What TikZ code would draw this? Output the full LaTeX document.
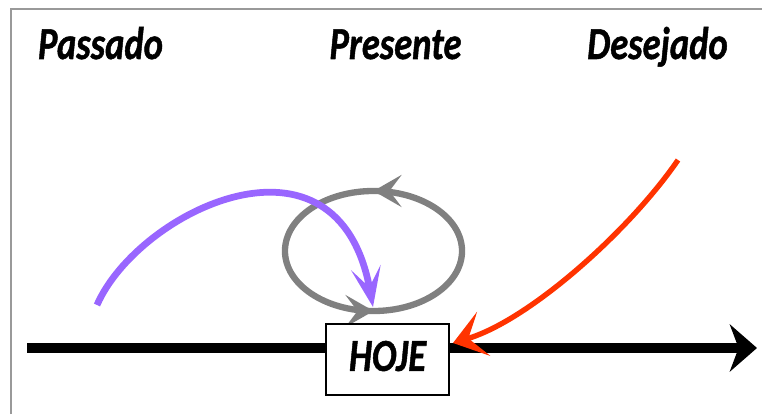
\documentclass[tikz,border=0pt]{standalone}
\usepackage{fontspec}
\usepackage{graphicx}
\setsansfont{Carlito}[BoldItalicFeatures={FakeBold=1.2}]
\usetikzlibrary{arrows.meta,decorations.markings}

\definecolor{pastpurple}{RGB}{153,102,255}
\definecolor{wishred}{RGB}{255,51,0}
\definecolor{loopgray}{RGB}{128,128,128}

\newcommand{\tall}[1]{\scalebox{1}[1.25]{#1}}

\begin{document}
\begin{tikzpicture}[
  x=0.025cm, y=0.025cm,
  era/.style={anchor=base, inner sep=0pt,
    font=\sffamily\bfseries\itshape\fontsize{26}{30}\selectfont},
  today/.style={draw=black, line width=1.2pt, fill=white, inner sep=0pt,
    minimum width=3.075cm, minimum height=1.775cm, text depth=0.18cm,
    font=\sffamily\bfseries\itshape\fontsize{26}{30}\selectfont},
  timeline/.style={-{Stealth[length=0.68cm, width=1.18cm, inset=0.22cm]},
    line width=7pt, black},
  loopline/.style={draw=loopgray, line width=4.5pt, postaction={decorate},
    decoration={markings,
      mark=at position 0.25 with {\arrow{Stealth[length=0.7cm, width=0.8cm, inset=0.3cm]}},
      mark=at position 0.75 with {\arrow{Stealth[length=0.7cm, width=0.8cm, inset=0.3cm]}}}},
  pastarrow/.style={-{Stealth[length=1cm, width=0.75cm, inset=0.5cm]},
    line width=4.8pt, pastpurple},
  wisharrow/.style={-{Stealth[length=0.8cm, width=1.15cm, inset=0.4cm]},
    line width=3.8pt, wishred}
]
\useasboundingbox (0,0) rectangle (762,414);

% frame
\draw[gray!80, line width=1pt] (11,0) -- (11,405) -- (762,405);

% headings
\node[era] (passado) at (100.5,355) {\tall{Passado}};
\node[era] (presente) at (395.5,355) {\tall{Presente}};
\node[era] (desejado) at (657.5,355) {\tall{Desejado}};

% time axis
\coordinate (tstart) at (27,66);
\coordinate (tend) at (757,66);
\draw[timeline] (tstart) -- (tend);

% present cycle
\coordinate (loopc) at (373.5,163);
\draw[loopline] (loopc) ellipse [x radius=2.2125cm, y radius=1.5cm];

% today
\node[today] (hoje) at (387.5,54.5) {\tall{HOJE}};

% past and wished future
\coordinate (pastfrom) at (97,109);
\coordinate (pastto) at (373,107);
\draw[pastarrow] (pastfrom) .. controls (138,203) and (338,300) .. (pastto);

\coordinate (wishfrom) at (678,254);
\coordinate (wishto) at (453,71);
\draw[wisharrow] (wishfrom) .. controls (630,184) and (530,94) .. (wishto);
\end{tikzpicture}
\end{document}
